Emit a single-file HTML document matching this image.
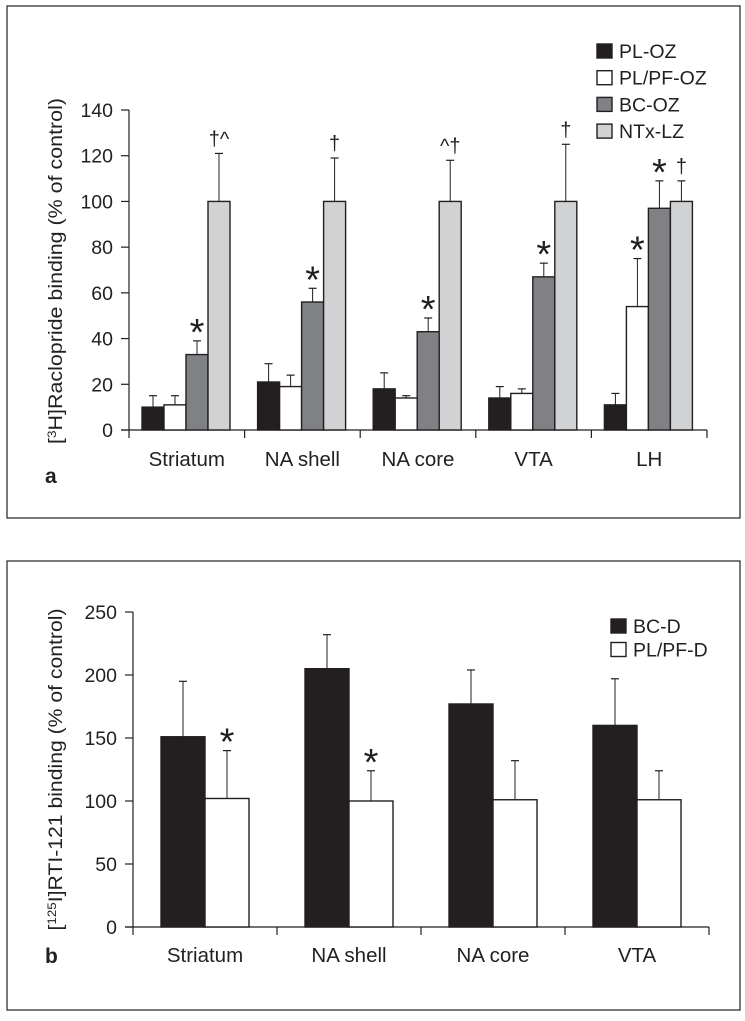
<!DOCTYPE html>
<html><head><meta charset="utf-8"><style>
html,body{margin:0;padding:0;background:#fff;}
svg text{font-family:"Liberation Sans",sans-serif;fill:#231f20;}
</style></head><body>
<svg id="fig" width="745" height="1016" viewBox="0 0 745 1016" xmlns="http://www.w3.org/2000/svg">
<rect x="7" y="6" width="733" height="512" fill="none" stroke="#231f20" stroke-width="1.2"/>
<rect x="7" y="561" width="733" height="449" fill="none" stroke="#231f20" stroke-width="1.2"/>
<g id="ga"></g>
<g id="gb"></g>
</svg>
<script>
// Panel a data
const catsA = ["Striatum","NA shell","NA core","VTA","LH"];
const seriesNamesA = ["PL-OZ","PL/PF-OZ","BC-OZ","NTx-LZ"];
const plOZ = [10,21,18,14,11];
const plpfOZ = [11,19,14,16,54];
const bcOZ = [33,56,43,67,97];
const ntxLZ = [100,100,100,100,100];
const plOZErr = [15,29,25,19,16];
const plpfOZErr = [15,24,15,18,75];
const bcOZErr = [39,62,49,73,109];
const ntxLZErr = [121,119,118,125,109];
const ticksA = [0,20,40,60,80,100,120,140];
// annotations: [category index, series index, text]
const annotA = [[0,2,"*"],[1,2,"*"],[2,2,"*"],[3,2,"*"],[4,1,"*"],[4,2,"*"],[0,3,"†^"],[1,3,"†"],[2,3,"^†"],[3,3,"†"],[4,3,"†"]];

// Panel b data
const catsB = ["Striatum","NA shell","NA core","VTA"];
const seriesNamesB = ["BC-D","PL/PF-D"];
const bcD = [151,205,177,160];
const plpfD = [102,100,101,101];
const bcDErr = [195,232,204,197];
const plpfDErr = [140,124,132,124];
const ticksB = [0,50,100,150,200,250];
const annotB = [[0,1,"*"],[1,1,"*"]];

const NS="http://www.w3.org/2000/svg";
function mk(parent,tag,attrs,txt){const e=document.createElementNS(NS,tag);for(const k in attrs)e.setAttribute(k,attrs[k]);if(txt!==undefined)e.textContent=txt;parent.appendChild(e);return e;}

function drawPanel(g,cfg){
  const {cats,series,errs,names,fills,ticks,ymax,x0,x1,y0,yTop,barW,offset,annot,legX,legY,legStep,title,titleLen,letter,letterY,labY}=cfg;
  const ys=v=>y0-(v/ymax)*(y0-yTop);
  const gw=(x1-x0)/cats.length;
  const xs=(c,s)=>x0+c*gw+offset+s*barW;
  let e=mk(g,'line',{x1:x0,y1:y0,x2:x0,y2:yTop,stroke:'#231f20','stroke-width':1.2});
  
  
  e=mk(g,'line',{x1:x0-8,y1:y0,x2:x1,y2:y0,stroke:'#231f20','stroke-width':1.2});
  
  
  ticks.forEach(t=>{
    const y=ys(t);
    const l=mk(g,'line',{x1:x0-8,y1:y,x2:x0,y2:y,stroke:'#231f20','stroke-width':1.2});
    
    
    const tx=mk(g,'text',{x:x0-16,y:y+7,'text-anchor':'end','font-size':19.5},String(t));
    
    
  });
  for(let c=0;c<=cats.length;c++){
    const x=x0+c*gw;
    const l=mk(g,'line',{x1:x,y1:y0,x2:x,y2:y0+8,stroke:'#231f20','stroke-width':1.2});
    
    
  }
  cats.forEach((c,i)=>{
    const t=mk(g,'text',{x:x0+(i+0.5)*gw,y:labY,'text-anchor':'middle','font-size':20.5},c);
    
    
  });
  series.forEach((arr,s)=>{
    arr.forEach((v,c)=>{
      const x=xs(c,s),top=ys(v),et=ys(errs[s][c]);
      const el=mk(g,'line',{x1:x+barW/2,y1:top,x2:x+barW/2,y2:et,stroke:'#231f20','stroke-width':1});
      
      
      const cap=mk(g,'line',{x1:x+barW/2-4,y1:et,x2:x+barW/2+4,y2:et,stroke:'#231f20','stroke-width':1.2});
      
      
      const r=mk(g,'rect',{x:x,y:top,width:barW,height:y0-top,fill:fills[s],stroke:'#231f20','stroke-width':1.4});
      
      
    });
  });
  annot.forEach(([c,s,txt])=>{
    const x=xs(c,s)+barW/2, et=ys(errs[s][c]);
    const star=txt==="*";
    const t=mk(g,'text',{x:x,y:star?et+4:et-8,'text-anchor':'middle','font-size':star?38:20},txt);
    
    
  });
  names.forEach((n,i)=>{
    const y=legY+i*legStep;
    const r=mk(g,'rect',{x:legX,y:y-7,width:15,height:14,fill:fills[i],stroke:'#231f20','stroke-width':1.4});
    
    
    const t=mk(g,'text',{x:legX+22,y:y+7,'font-size':19.5},n);
    
    
  });
  const cy=(y0+yTop)/2+cfg.titleShift;
  const tt=mk(g,'text',{x:0,y:0,'text-anchor':'middle','font-size':19,transform:`translate(${cfg.titleX},${cy}) rotate(-90)`,textLength:titleLen,lengthAdjust:'spacingAndGlyphs'});
  tt.innerHTML=title;
  
  
  const lt=mk(g,'text',{x:45,y:letterY,'font-size':21,'font-weight':'bold'},letter);
  
  
}

drawPanel(document.getElementById('ga'),{
  cats:catsA,series:[plOZ,plpfOZ,bcOZ,ntxLZ],errs:[plOZErr,plpfOZErr,bcOZErr,ntxLZErr],
  names:seriesNamesA,fills:['#231f20','#ffffff','#808184','#d1d2d4'],
  ticks:ticksA,ymax:140,x0:129,x1:707,y0:430,yTop:110,barW:22,offset:13,annot:annotA,
  legX:597,legY:51,legStep:26.7,
  title:'[<tspan font-size="12" dy="-6">3</tspan><tspan dy="6">H]Raclopride binding (% of control)</tspan>',
  titleLen:346,titleX:62,titleShift:1,letter:'a',letterY:483,labY:466
});
drawPanel(document.getElementById('gb'),{
  cats:catsB,series:[bcD,plpfD],errs:[bcDErr,plpfDErr],
  names:seriesNamesB,fills:['#231f20','#ffffff'],
  ticks:ticksB,ymax:250,x0:133,x1:709,y0:927,yTop:612,barW:44,offset:28,annot:annotB,
  legX:611,legY:626,legStep:23.5,
  title:'[<tspan font-size="12" dy="-6">125</tspan><tspan dy="6">I]RTI-121 binding (% of control)</tspan>',
  titleLen:322,titleX:62,titleShift:0,letter:'b',letterY:963,labY:962
});
</script>
</body></html>
